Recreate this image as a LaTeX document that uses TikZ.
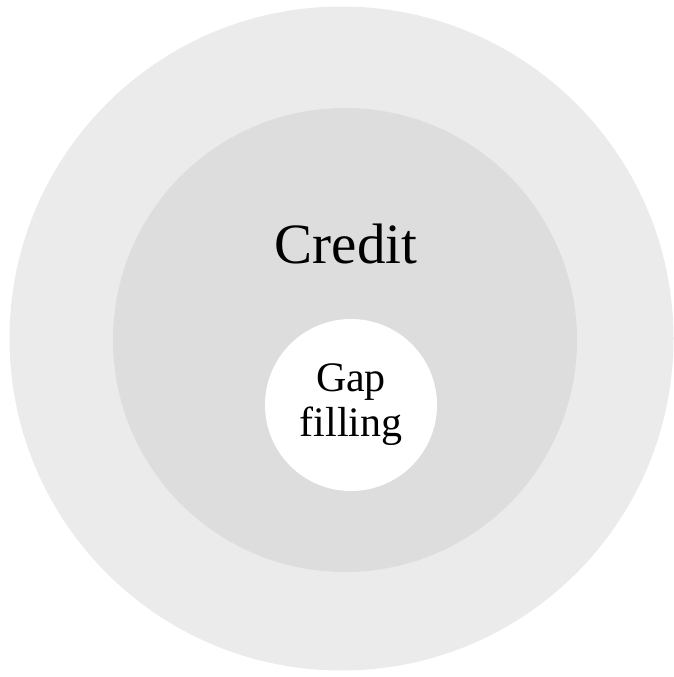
\documentclass[tikz,border=0pt]{standalone}
\usepackage{fontspec}
\setmainfont{Liberation Serif}
\definecolor{outergray}{RGB}{235,235,235}
\definecolor{midgray}{RGB}{221,221,221}
\begin{document}
\begin{tikzpicture}[x=1pt,y=-1pt,
  ring/.style={circle,draw=none,inner sep=0pt}]
\useasboundingbox (0,0) rectangle (673,677);
\node[ring,fill=outergray,minimum size=664pt] (outer) at (341.5,338.5) {};
\node[ring,fill=midgray,minimum size=464pt] (middle) at (345,340) {};
\node[ring,fill=white,minimum size=172pt,align=center,
  font=\fontsize{42pt}{45pt}\selectfont] (inner) at (351,405) {Gap\\filling};
\node[anchor=base,inner sep=0pt,font=\fontsize{57pt}{60pt}\selectfont] (credit) at (346,263) {Credit};
\end{tikzpicture}
\end{document}
